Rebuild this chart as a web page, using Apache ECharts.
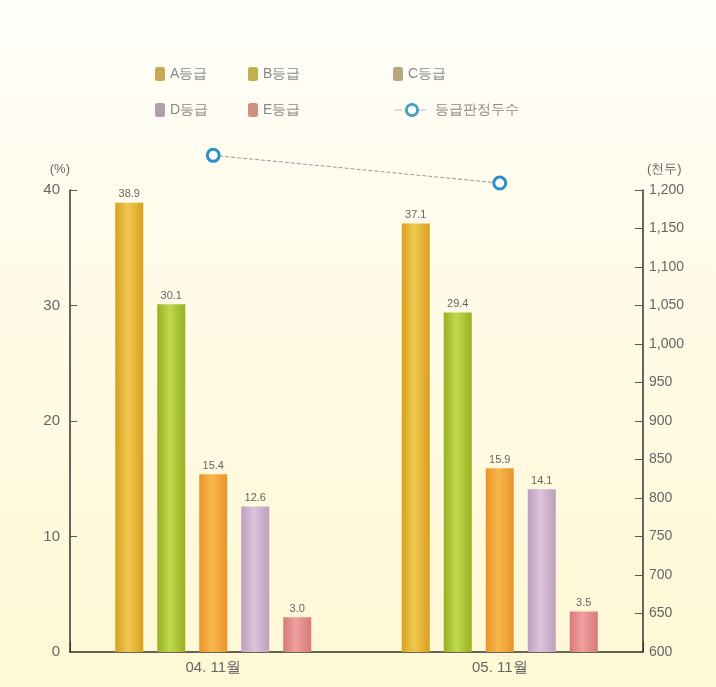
<!DOCTYPE html>
<html>
<head>
<meta charset="utf-8">
<script src="https://cdn.jsdelivr.net/npm/echarts@6/dist/echarts.min.js"></script>
<style>
html,body{margin:0;padding:0;background:#fffdf2;}
#c{width:716px;height:687px;}
</style>
</head>
<body>
<div id="c"></div>
<script>
var categories = ['04. 11월', '05. 11월'];
var gradeA = [38.9, 37.1];
var gradeB = [30.1, 29.4];
var gradeC = [15.4, 15.9];
var gradeD = [12.6, 14.1];
var gradeE = [3.0, 3.5];
var headCount = [1245, 1209];
var leftTicks = [0, 40, 10];
var rightTicks = [600, 1200, 50];
var seriesNames = ['A등급', 'B등급', 'C등급', 'D등급', 'E등급', '등급판정두수'];

function cyl(c1, c2) {
  return new echarts.graphic.LinearGradient(0, 0, 1, 0, [
    {offset: 0, color: c2}, {offset: 0.45, color: c1}, {offset: 1, color: c2}
  ]);
}
var colors = [
  cyl('#f0c850', '#d8a020'),
  cyl('#c0d850', '#98b020'),
  cyl('#f8b850', '#e89428'),
  cyl('#dcc4dc', '#bca0bc'),
  cyl('#f0a0a0', '#d87878')
];
var legendColors = ['#c8a850', '#c0b050', '#b8a880', '#b0a0a8', '#d09080'];
var barData = [gradeA, gradeB, gradeC, gradeD, gradeE];

var chart = echarts.init(document.getElementById('c'));
var series = barData.map(function (d, i) {
  return {
    name: seriesNames[i], type: 'bar', data: d, barWidth: 28, barGap: '50%',
    itemStyle: {color: colors[i]},
    label: {show: true, position: 'top', color: '#666', fontSize: 11, distance: 3,
      formatter: function (p) { return p.value.toFixed(1); }}
  };
});
series.push({
  name: seriesNames[5], type: 'line', yAxisIndex: 1, data: headCount, clip: false,
  symbol: 'circle', symbolSize: 12, z: 5,
  lineStyle: {color: '#999', width: 1, type: 'dashed'},
  itemStyle: {color: '#fff', borderColor: '#2e8fc8', borderWidth: 3}
});

var legPos = [[150, 62], [243, 62], [388, 62], [150, 98], [243, 98], [388, 98]];
var legends = seriesNames.map(function (n, i) {
  return {
    data: [n], left: legPos[i][0], top: legPos[i][1],
    itemWidth: i === 5 ? 36 : 10, itemHeight: 14,
    textStyle: {color: '#888', fontSize: 14},
    itemStyle: i < 5 ? {color: legendColors[i]} : {color: '#fff', borderColor: '#4aa0c0', borderWidth: 3},
    lineStyle: i === 5 ? {color: '#ddd', width: 2} : undefined
  };
});

chart.setOption({
  animation: false,
  backgroundColor: new echarts.graphic.LinearGradient(0, 0, 0, 1, [
    {offset: 0, color: '#fffefa'}, {offset: 0.3, color: '#fffcec'}, {offset: 1, color: '#fff8d4'}
  ]),
  legend: legends,
  grid: {left: 70, right: 73, top: 190, bottom: 35},
  xAxis: {
    type: 'category', data: categories,
    axisLine: {lineStyle: {color: '#333', width: 1.5}},
    axisTick: {show: true, inside: true, length: 10, lineStyle: {color: '#333'},
      interval: function (i) { return i === 1; }},
    axisLabel: {color: '#666', fontSize: 15, margin: 8}
  },
  yAxis: [
    {
      type: 'value', min: leftTicks[0], max: leftTicks[1], interval: leftTicks[2],
      name: '(%)', nameLocation: 'end', nameGap: 14, nameTextStyle: {color: '#666', fontSize: 13, align: 'right'},
      axisLine: {show: true, lineStyle: {color: '#333', width: 1.5}},
      axisTick: {show: true, inside: true, length: 7, lineStyle: {color: '#555'}},
      splitLine: {show: false},
      axisLabel: {color: '#666', fontSize: 15, margin: 10}
    },
    {
      type: 'value', min: rightTicks[0], max: rightTicks[1], interval: rightTicks[2],
      name: '(천두)', nameLocation: 'end', nameGap: 14, nameTextStyle: {color: '#666', fontSize: 13, align: 'left', padding: [0, 0, 0, 4]},
      axisLine: {show: true, lineStyle: {color: '#333', width: 1.5}},
      axisTick: {show: true, inside: true, length: 8, lineStyle: {color: '#555'}},
      splitLine: {show: false},
      axisLabel: {color: '#666', fontSize: 14, margin: 6,
        formatter: function (v) { return v.toLocaleString('en-US'); }}
    }
  ],
  series: series
});
</script>
</body>
</html>
